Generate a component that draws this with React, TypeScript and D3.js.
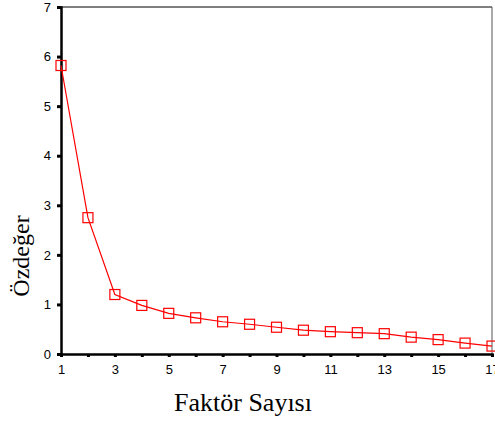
import React, { useEffect, useRef } from "react";
import * as d3 from "d3";

// scree plot values
const factors = [1, 2, 3, 4, 5, 6, 7, 8, 9, 10, 11, 12, 13, 14, 15, 16, 17];
const eigenvalues = [5.82, 2.75, 1.2, 0.98, 0.82, 0.73, 0.65, 0.6, 0.54, 0.48, 0.45, 0.43, 0.41, 0.34, 0.29, 0.22, 0.16];
const xTickLabels = [1, 3, 5, 7, 9, 11, 13, 15, 17];
const yTickLabels = [0, 1, 2, 3, 4, 5, 6, 7];

const W = 495;
const H = 421;

export default function App() {
  const ref = useRef<SVGSVGElement>(null);

  useEffect(() => {
    const svg = d3.select(ref.current);
    svg.selectAll("*").remove();

    var margin = { top: 7, left: 61, right: 3, bottom: 67 };
    const x = d3.scaleLinear().domain([1, 17]).range([margin.left, W - margin.right]);
    const y = d3.scaleLinear().domain([0, 7]).range([H - margin.bottom, margin.top]);

    // frame: top and right thin lines
    svg.append("line").attr("x1", x(1)).attr("x2", x(17)).attr("y1", y(7)).attr("y2", y(7))
      .attr("stroke", "#000").attr("stroke-width", 1);
    svg.append("line").attr("x1", x(17)).attr("x2", x(17)).attr("y1", y(7)).attr("y2", y(0))
      .attr("stroke", "#555").attr("stroke-width", 1);

    // Y axis
    const yAxis = svg.append("g").attr("transform", `translate(${x(1)},0)`)
      .call(d3.axisLeft(y).tickValues(yTickLabels).tickSize(4).tickPadding(6).tickFormat(d3.format("d")));
    yAxis.select(".domain").attr("stroke-width", 2.5);
    yAxis.selectAll(".tick line").attr("stroke-width", 3);
    yAxis.selectAll("text").attr("font-family", "Liberation Sans, Arial, sans-serif").attr("font-size", 13).attr("fill", "#000");

    // X axis
    const xAxis = svg.append("g").attr("transform", `translate(0,${y(0)})`)
      .call(d3.axisBottom(x).tickValues(factors).tickSize(3).tickPadding(8)
        .tickFormat((d) => (xTickLabels.includes(+d) ? String(d) : "")));
    xAxis.select(".domain").attr("stroke-width", 2.5);
    xAxis.selectAll(".tick line").attr("stroke-width", 3);
    xAxis.selectAll("text").attr("font-family", "Liberation Sans, Arial, sans-serif").attr("font-size", 13).attr("fill", "#000");

    // line
    const line = d3.line<number>().x((d, i) => x(factors[i])).y((d) => y(d));
    svg.append("path").datum(eigenvalues).attr("d", line).attr("fill", "none")
      .attr("stroke", "#ff0000").attr("stroke-width", 1.2);

    // square markers
    svg.selectAll(".pt").data(eigenvalues).join("rect").attr("class", "pt")
      .attr("x", (d, i) => x(factors[i]) - 5).attr("y", (d) => y(d) - 5)
      .attr("width", 10).attr("height", 10)
      .attr("fill", "none").attr("stroke", "#ff0000").attr("stroke-width", 1.2);

    // axis titles
    svg.append("text").attr("x", 243).attr("y", 411).attr("text-anchor", "middle")
      .attr("font-family", "Liberation Serif, Times New Roman, serif").attr("font-size", 26)
      .text("Faktör Sayısı");
    svg.append("text").attr("transform", "translate(29,256) rotate(-90)").attr("text-anchor", "middle")
      .attr("font-family", "Liberation Serif, Times New Roman, serif").attr("font-size", 24)
      .text("Özdeğer");
  }, []);

  return (
    <svg ref={ref} width={W} height={H} style={{ position: "absolute", left: 0, top: 0, background: "#fff" }}></svg>
  );
}
